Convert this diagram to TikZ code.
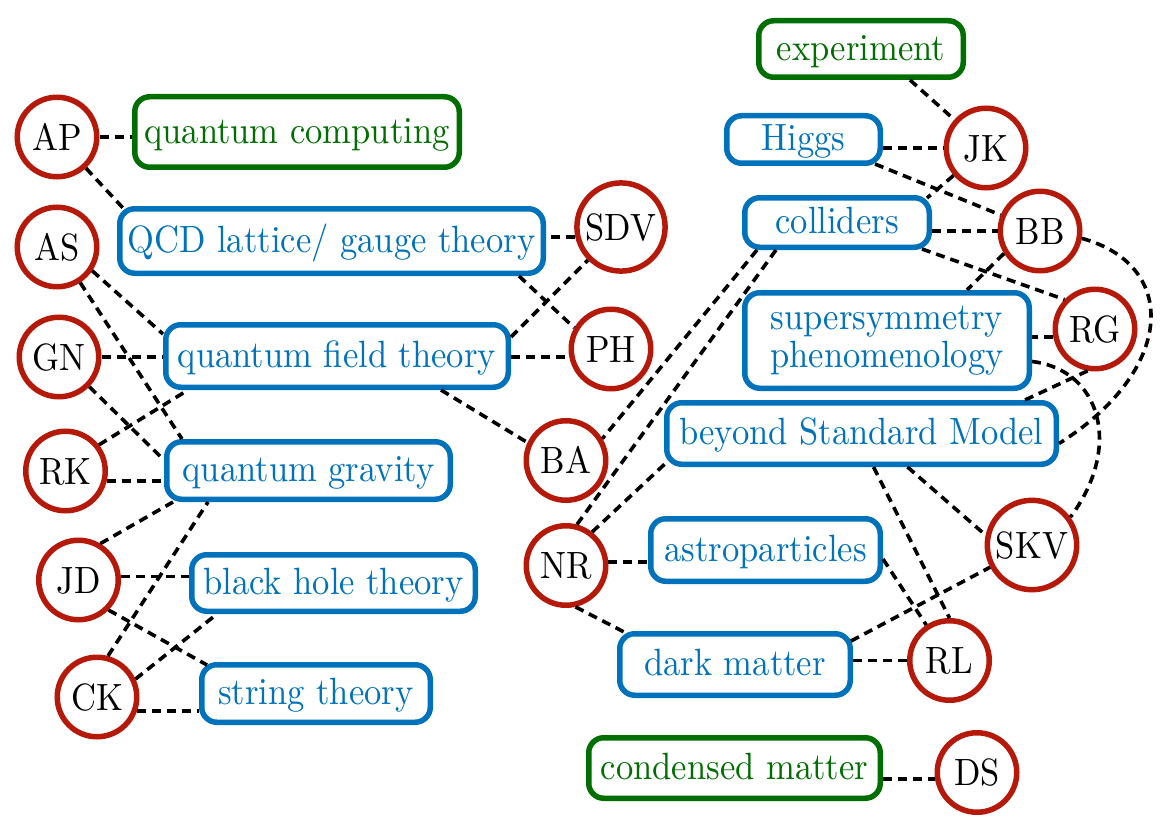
\documentclass[tikz,border=0pt]{standalone}
\usepackage{fontspec}
\newfontfamily\diagfont{lmroman10-regular.otf}[FakeStretch=0.91]
\definecolor{cred}{RGB}{180,25,10}
\definecolor{cblue}{RGB}{0,114,188}
\definecolor{cgreen}{RGB}{0,110,0}
\begin{document}
\begin{tikzpicture}[x=1pt,y=-1pt,
  person/.style={circle, draw=cred, line width=5.5pt, minimum size=79.5pt, inner sep=5pt,
    font=\diagfont\fontsize{38}{38}\selectfont, text height=26pt, text depth=0pt},
  box/.style={rectangle, rounded corners=15pt, draw=cblue, text=cblue, line width=5.5pt,
    inner sep=0pt, font=\diagfont\fontsize{38}{38}\selectfont},
  topic/.style={box, text height=28.5pt, text depth=5.7pt},
  field/.style={topic, draw=cgreen, text=cgreen},
  link/.style={black, line width=3.6pt, dash pattern=on 9pt off 6pt}]
\useasboundingbox (0,0) rectangle (1165,824);

% topic boxes
\node[field, minimum width=324.5pt, minimum height=70.5pt] (QC) at (297,132) {quantum computing};
\node[topic, minimum width=423.5pt, minimum height=64.5pt] (QCD) at (331.5,241) {QCD lattice/ gauge theory};
\node[topic, minimum width=342.5pt, minimum height=62.5pt] (QFT) at (337,356) {quantum field theory};
\node[topic, minimum width=283.5pt, minimum height=57.5pt] (QG) at (308.5,470.5) {quantum gravity};
\node[topic, minimum width=283.5pt, minimum height=56.5pt] (BH) at (333.5,583) {black hole theory};
\node[topic, minimum width=228.5pt, minimum height=57.5pt] (ST) at (316,693.5) {string theory};
\node[field, minimum width=204.5pt, minimum height=56.5pt] (EXP) at (861,49) {experiment};
\node[topic, minimum width=153.5pt, minimum height=47.5pt] (HIG) at (803.5,139.5) {Higgs};
\node[topic, minimum width=184.5pt, minimum height=49.5pt] (COL) at (837,222.5) {colliders};
\node[box, align=center, minimum width=284.5pt, minimum height=95.5pt] (SUSY) at (887,340.5) {supersymmetry\\phenomenology};
\node[topic, minimum width=389.5pt, minimum height=61.5pt] (BSM) at (861.5,433.5) {beyond Standard Model};
\node[topic, minimum width=229.5pt, minimum height=62.5pt] (AST) at (765.5,550) {astroparticles};
\node[topic, minimum width=230.5pt, minimum height=61.5pt] (DM) at (735,664.5) {dark matter};
\node[field, minimum width=291.5pt, minimum height=60.5pt] (CM) at (734.5,768) {condensed matter};

% people
\node[person] (AP) at (57,137) {AP};
\node[person] (AS) at (57,247) {AS};
\node[person] (GN) at (59,357) {GN};
\node[person] (RK) at (65.5,471) {RK};
\node[person] (JD) at (78.5,580) {JD};
\node[person] (CK) at (97,697) {CK};
\node[person] (SDV) at (621,227) {SDV};
\node[person] (PH) at (611,349) {PH};
\node[person] (BA) at (566,460.5) {BA};
\node[person] (NR) at (566,565.5) {NR};
\node[person] (JK) at (986,148) {JK};
\node[person] (BB) at (1040,231) {BB};
\node[person] (RG) at (1095,329) {RG};
\node[person] (SKV) at (1032,545) {SKV};
\node[person] (RL) at (949.5,660.5) {RL};
\node[person] (DS) at (977,772.5) {DS};

% left connectors
\draw[link] (AP) -- (QC.west |- AP);
\draw[link] (AP) -- ([shift={(6,2)}]QCD.north west);
\draw[link] (AS.-34) -- ([shift={(0,12)}]QFT.north west);
\draw[link] (AS) -- ([shift={(18,0)}]QG.north west);
\draw[link] (GN) -- (QFT.west |- GN);
\draw[link] (GN) -- ([shift={(0,21)}]QG.north west);
\draw[link] (RK.38) -- ([shift={(25,0)}]QFT.south west);
\draw[link] (RK.-14) -- (QG.west |- RK.-14);
\draw[link] (JD.59) -- ([shift={(9,0)}]QG.south west);
\draw[link] (JD.5) -- (BH.west |- JD.5);
\draw[link] (JD.-45) -- ([shift={(8,3)}]ST.north west);
\draw[link] (CK.75) -- ([shift={(44,0)}]QG.south west);
\draw[link] (CK.25) -- ([shift={(28,0)}]BH.south west);
\draw[link] (CK.-19) -- (ST.west |- CK.-19);
\draw[link] (SDV.192) -- (QCD.east |- SDV.192);
\draw[link] ([shift={(-27,0)}]QCD.south east) -- (PH.150);
\draw[link] ([shift={(0,15)}]QFT.north east) -- (SDV);
\draw[link] (QFT.east |- PH.191) -- (PH.191);
\draw[link] ([shift={(-70,0)}]QFT.south east) -- (BA.155);

% right connectors
\draw[link] ([shift={(-56,0)}]EXP.south east) -- (JK);
\draw[link] (HIG.east |- JK) -- (JK);
\draw[link] ([shift={(-8,-2)}]HIG.south east) -- (BB);
\draw[link] (JK) -- ([shift={(-5,3)}]COL.north east);
\draw[link] (COL.east |- BB) -- (BB);
\draw[link] ([shift={(-10,-1)}]COL.south east) -- (RG.136);
\draw[link] ([shift={(15,0)}]COL.south west) -- (BA.31);
\draw[link] ([shift={(34,0)}]COL.south west) -- (NR.75);
\draw[link] (BB.212) -- ([shift={(-65,0)}]SUSY.north east);
\draw[link] (BB.-10) .. controls +(98,27) and +(116,-73) .. ([shift={(0,10)}]BSM.east);
\draw[link] (RG.191) -- (SUSY.east |- RG.191);
\draw[link] ([shift={(0,21)}]SUSY.east) .. controls +(68,8) and +(53,-71) .. (SKV.36);
\draw[link] (RG.-100) -- ([shift={(-34,0)}]BSM.north east);
\draw[link] ([shift={(46,0)}]BSM.south) -- (SKV.168);
\draw[link] ([shift={(12,0)}]BSM.south) -- (RL.north);
\draw[link] ([shift={(0,9)}]AST.east) -- (RL);
\draw[link] (NR.5) -- (AST.west |- NR.5);
\draw[link] (NR.-77) -- ([shift={(9,2)}]DM.north west);
\draw[link] (NR.52) -- ([shift={(4,-6)}]BSM.south west);
\draw[link] ([shift={(-2,10)}]DM.north east) -- (SKV);
\draw[link] (DM.east |- RL) -- (RL);
\draw[link] (CM.east |- DS.189) -- (DS.189);
\end{tikzpicture}
\end{document}
